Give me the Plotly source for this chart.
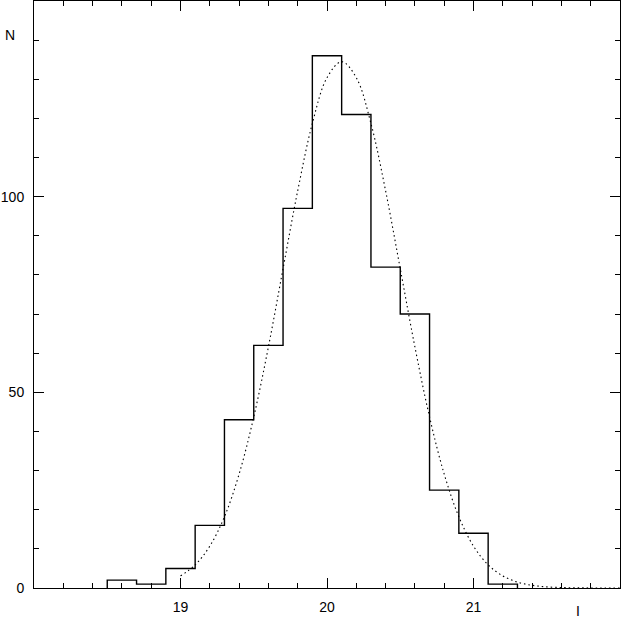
import plotly.graph_objects as go

# Histogram: bin left edges (width 0.2) and counts
bin_left = [18.5, 18.7, 18.9, 19.1, 19.3, 19.5, 19.7, 19.9, 20.1, 20.3, 20.5, 20.7, 20.9, 21.1]
counts = [2, 1, 5, 16, 43, 62, 97, 136, 121, 82, 70, 25, 14, 1]
bin_width = 0.2

# Dotted fitted curve
curve_x = [19.0, 19.1, 19.2, 19.3, 19.4, 19.5, 19.6, 19.7, 19.8, 19.9, 20.0, 20.1,
           20.2, 20.3, 20.4, 20.5, 20.6, 20.7, 20.8, 20.9, 21.0, 21.1, 21.2, 21.3,
           21.4, 21.5, 21.6, 21.7, 21.8, 21.9, 22.0]
curve_y = [3.1, 5.9, 10.7, 18.2, 29.1, 43.7, 61.6, 81.6, 101.5, 118.7, 130.4, 134.5,
           130.4, 118.7, 101.5, 81.6, 61.6, 43.7, 29.1, 18.2, 10.7, 5.9, 3.1, 1.5,
           0.69, 0.29, 0.12, 0.045, 0.016, 0.005, 0.0]

x_tickvals = [19, 20, 21]
y_tickvals = [0, 50, 100]

# step outline
step_x = [bin_left[0]] + bin_left + [bin_left[-1] + bin_width]
step_y = [0] + counts + [0]

fig = go.Figure()
fig.add_trace(go.Scatter(
    x=curve_x, y=curve_y, mode="lines",
    line=dict(color="black", width=1.1, dash="1.5px,3px", shape="spline"),
    hoverinfo="skip", showlegend=False))
fig.add_trace(go.Scatter(
    x=step_x, y=step_y, mode="lines",
    line=dict(color="black", width=1.4, shape="hv"),
    showlegend=False))

font = dict(family="Liberation Sans, Arial, Helvetica, sans-serif", size=14, color="black")

fig.update_layout(
    width=622, height=618,
    margin=dict(l=34, r=2, t=1, b=30),
    paper_bgcolor="white", plot_bgcolor="white",
    font=font,
    xaxis=dict(range=[18, 22], tickvals=x_tickvals, ticks="inside", ticklen=10,
               tickwidth=1, tickcolor="black", showline=True, linecolor="black",
               linewidth=1, mirror="ticks", showgrid=False, zeroline=False,
               ticklabelstandoff=6,
               minor=dict(dtick=0.2, tick0=18, ticks="inside", ticklen=5,
                          tickcolor="black", tickwidth=1, showgrid=False)),
    yaxis=dict(range=[0, 150], tickvals=y_tickvals, ticks="inside", ticklen=10,
               tickwidth=1, tickcolor="black", showline=True, linecolor="black",
               linewidth=1, mirror="ticks", showgrid=False, zeroline=False,
               ticklabelstandoff=6,
               minor=dict(dtick=10, tick0=0, ticks="inside", ticklen=5,
                          tickcolor="black", tickwidth=1, showgrid=False)),
    annotations=[
        dict(text="N", xref="paper", yref="y", x=-0.0415, y=141.2,
             showarrow=False, xanchor="center", yanchor="middle", font=font),
        dict(text="I", xref="x", yref="paper", x=21.715, y=-0.04,
             showarrow=False, xanchor="center", yanchor="middle", font=font),
    ],
)

fig.write_html(
    "out.html",
    config={"displayModeBar": False},
    post_script="document.body.style.margin='0';document.body.style.overflow='hidden';",
)
